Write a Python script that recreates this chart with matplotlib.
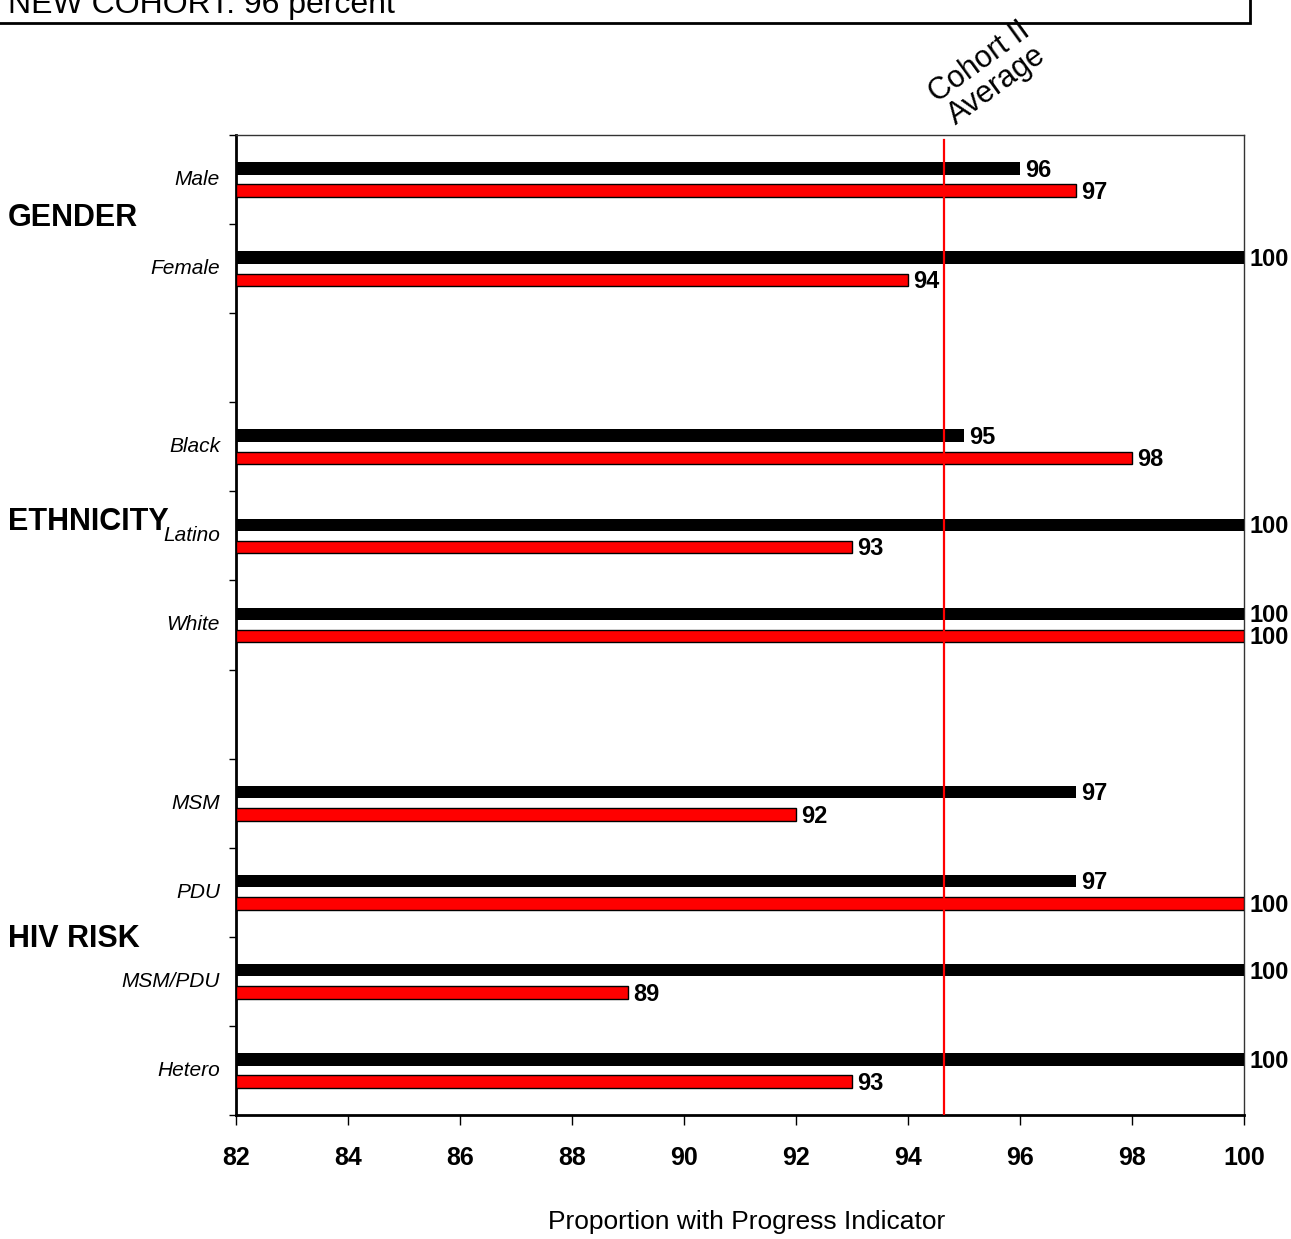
import matplotlib
matplotlib.use("Agg")
import matplotlib.pyplot as plt
import matplotlib.transforms as mtransforms
from matplotlib.patches import Rectangle

# data, top to bottom (None = empty spacer row)
categories = ["Male", "Female", None, "Black", "Latino", "White", None,
              "MSM", "PDU", "MSM/PDU", "Hetero"]
new_cohort = [96, 100, None, 95, 100, 100, None, 97, 97, 100, 100]
cohort_ii = [97, 94, None, 98, 93, 100, None, 92, 100, 89, 93]
groups = ["GENDER", "ETHNICITY", "HIV RISK"]
group_rows = [0.43, 3.84, 8.52]
cohort_avg = 94.65
x_ticks = [82, 84, 86, 88, 90, 92, 94, 96, 98, 100]

SANS = ["Liberation Sans", "DejaVu Sans"]
plt.rcParams['font.family'] = SANS

fig = plt.figure(figsize=(12.91, 12.39), dpi=100)
ax = fig.add_axes([236 / 1291, 1 - 1115 / 1239, 1008 / 1291, 980 / 1239])

bar_h = 0.14
off = 0.125
for i, (cat, b, r) in enumerate(zip(categories, new_cohort, cohort_ii)):
    if cat is None:
        continue
    ax.barh(i - off, b - 82, left=82, height=bar_h, color="black", zorder=3)
    ax.barh(i + off, r - 82, left=82, height=bar_h, color="#ff0000",
            edgecolor="black", linewidth=1.0, zorder=3)
    ax.text(b + 0.1, i - off + 0.02, str(b), ha="left", va="center",
            fontsize=17, fontweight="bold", zorder=4)
    ax.text(r + 0.1, i + off + 0.02, str(r), ha="left", va="center",
            fontsize=17, fontweight="bold", zorder=4)

ax.axvline(cohort_avg, ymin=0, ymax=0.995, color="#ff0000", linewidth=1.6, zorder=5)

ax.set_xlim(82, 100)
ax.set_ylim(len(categories) - 0.5, -0.5)
ax.set_xticks(x_ticks)
ax.set_xticklabels([str(t) for t in x_ticks], fontsize=18, fontweight="bold")
ax.tick_params(axis="x", direction="out", length=7, width=1, pad=15)

ax.set_yticks([i + 0.5 for i in range(-1, len(categories))])
ax.set_yticklabels([])
ax.tick_params(axis="y", direction="out", length=5, width=1)

trans = mtransforms.blended_transform_factory(fig.transFigure, ax.transData)
for i, cat in enumerate(categories):
    if cat is None:
        continue
    ax.text(220 / 1291, i, cat, transform=trans, ha="right", va="center",
            fontsize=15, fontstyle="italic")
for g, y in zip(groups, group_rows):
    ax.text(8 / 1291, y, g, transform=trans, ha="left", va="center",
            fontsize=22, fontweight="bold")

ax.set_xlabel("Proportion with Progress Indicator", fontsize=19)
ax.xaxis.set_label_coords(0.507, -0.1163)
ax.xaxis.label.set_va("baseline")

for s in ["top", "right"]:
    ax.spines[s].set_linewidth(1.0)
    ax.spines[s].set_color("#333333")
for s in ["left", "bottom"]:
    ax.spines[s].set_linewidth(2.0)
    ax.spines[s].set_color("black")

# header box, cut off at the top of the image
fig.patches.append(Rectangle((-0.01, 1 - 23 / 1239), 1263 / 1291, 0.05,
                             transform=fig.transFigure, fill=False,
                             edgecolor="black", linewidth=2))
fig.text(8 / 1291, 1 - 13 / 1239, "NEW COHORT: 96 percent", ha="left",
         va="baseline", fontsize=23)

fig.text(988 / 1291, 1 - 74 / 1239, "Cohort II\nAverage", ha="center",
         va="center", rotation=36, fontsize=22, linespacing=0.95)

fig.savefig("out.png", dpi=100)
